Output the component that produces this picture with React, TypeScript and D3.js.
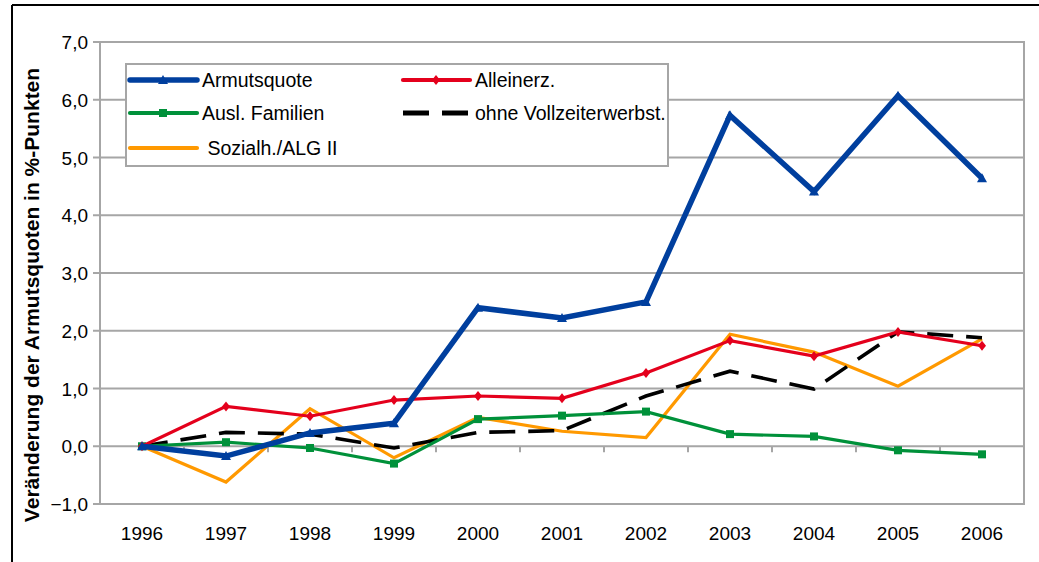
import React from "react";
import * as d3 from "d3";

const years = ["1996","1997","1998","1999","2000","2001","2002","2003","2004","2005","2006"];
const armutsquote = [0, -0.17, 0.23, 0.4, 2.4, 2.22, 2.5, 5.73, 4.41, 6.07, 4.64];
const alleinerz = [0, 0.69, 0.52, 0.8, 0.87, 0.83, 1.27, 1.83, 1.56, 1.98, 1.74];
const auslFamilien = [0, 0.07, -0.03, -0.3, 0.47, 0.53, 0.6, 0.21, 0.17, -0.07, -0.14];
const ohneVollzeit = [0, 0.24, 0.21, -0.03, 0.24, 0.27, 0.87, 1.3, 0.99, 1.98, 1.88];
const sozialh = [0, -0.62, 0.65, -0.2, 0.5, 0.26, 0.15, 1.94, 1.63, 1.04, 1.86];
const yTicks = [-1, 0, 1, 2, 3, 4, 5, 6, 7];

const W = 1039, H = 562;
const FONT = "'Liberation Sans', Arial, sans-serif";

type Series = { name: string; values: number[]; color: string; width: number; dash?: string; marker?: "tri" | "diamond" | "square" };
const series: Series[] = [
  { name: "Sozialh./ALG II", values: sozialh, color: "#ff9900", width: 3.2 },
  { name: "ohne Vollzeiterwerbst.", values: ohneVollzeit, color: "#000000", width: 3.6, dash: "26,13" },
  { name: "Ausl. Familien", values: auslFamilien, color: "#00913a", width: 3.2, marker: "square" },
  { name: "Alleinerz.", values: alleinerz, color: "#e4001c", width: 3.2, marker: "diamond" },
  { name: "Armutsquote", values: armutsquote, color: "#003f9e", width: 5.5, marker: "tri" },
];

function Marker({ kind, x, y, color }: { kind?: string; x: number; y: number; color: string }) {
  if (kind === "tri") return <path d={`M${x},${y - 5}L${x + 5},${y + 4}L${x - 5},${y + 4}Z`} fill={color} />;
  if (kind === "diamond") return <path d={`M${x},${y - 5}L${x + 4},${y}L${x},${y + 5}L${x - 4},${y}Z`} fill={color} />;
  if (kind === "square") return <rect x={x - 4} y={y - 4} width={8} height={8} fill={color} />;
  return null;
}

export default function App() {
  const left = 100, right = 1024, top = 42, bottom = 504;
  const x = d3.scalePoint<string>().domain(years).range([left, right]).padding(0.5);
  const y = d3.scaleLinear().domain([-1, 7]).range([bottom, top]);
  const line = d3.line<number>().x((_, i) => x(years[i])!).y((v) => y(v));
  const step = x.step();
  const grid = "#a6a6a6";

  const legendItems = [
    { s: series[4], lx: 130, ly: 80, tx: 202 },
    { s: series[3], lx: 403, ly: 80, tx: 475 },
    { s: series[2], lx: 130, ly: 113, tx: 202 },
    { s: series[1], lx: 403, ly: 113, tx: 475 },
    { s: series[0], lx: 130, ly: 148, tx: 202, pre: " " },
  ];

  return (
    <svg width={W} height={H} style={{ position: "absolute", left: 0, top: 0, display: "block" }}>
      <rect x={0} y={0} width={W} height={H} fill="#fff" />
      <line x1={12} y1={5} x2={W} y2={5} stroke="#000" strokeWidth={2} />
      <line x1={12} y1={5} x2={12} y2={H} stroke="#000" strokeWidth={2} />
      {yTicks.map((t) => (
        <g key={t}>
          <line x1={left - 7} x2={right} y1={y(t)} y2={y(t)} stroke={grid} strokeWidth={2} />
          <text x={88} y={y(t) + 7} textAnchor="end" fontFamily={FONT} fontSize={19} fill="#000">
            {d3.format(".1f")(t).replace(".", ",")}
          </text>
        </g>
      ))}
      <rect x={left} y={top} width={right - left} height={bottom - top} fill="none" stroke={grid} strokeWidth={2} />
      {years.map((yr, i) => i > 0 ? (
        <line key={yr} x1={x(yr)! - step / 2} x2={x(yr)! - step / 2} y1={y(0)} y2={y(0) + 6} stroke={grid} strokeWidth={2} />
      ) : null)}
      <line x1={right} x2={right} y1={y(0)} y2={y(0) + 6} stroke={grid} strokeWidth={2} />
      {years.map((yr) => (
        <text key={yr} x={x(yr)!} y={540} textAnchor="middle" fontFamily={FONT} fontSize={19} fill="#000">{yr}</text>
      ))}
      <text transform={`translate(39,295) rotate(-90)`} textAnchor="middle" fontFamily={FONT} fontSize={21} fontWeight="bold" fill="#000">
        Veränderung der Armutsquoten in %-Punkten
      </text>
      {series.map((s) => (
        <g key={s.name}>
          <path d={line(s.values)!} fill="none" stroke={s.color} strokeWidth={s.width} strokeDasharray={s.dash} strokeLinejoin="miter" />
          {s.values.map((v, i) => <Marker key={i} kind={s.marker} x={x(years[i])!} y={y(v)} color={s.color} />)}
        </g>
      ))}
      <rect x={126} y={64} width={542} height={102} fill="#fff" stroke={grid} strokeWidth={2} />
      {legendItems.map(({ s, lx, ly, tx, pre }) => (
        <g key={s.name}>
          <line x1={lx} x2={lx + 67} y1={ly} y2={ly} stroke={s.color} strokeWidth={s.dash ? 5 : Math.min(s.width + 1, 5.5)} strokeDasharray={s.dash ? "26,13" : undefined} strokeLinecap={s.dash ? "butt" : "round"} />
          <Marker kind={s.marker} x={lx + 33} y={ly} color={s.color} />
          <text x={tx} y={ly + 7} fontFamily={FONT} fontSize={19.5} fill="#000" xmlSpace="preserve">{(pre || "") + s.name}</text>
        </g>
      ))}
    </svg>
  );
}
